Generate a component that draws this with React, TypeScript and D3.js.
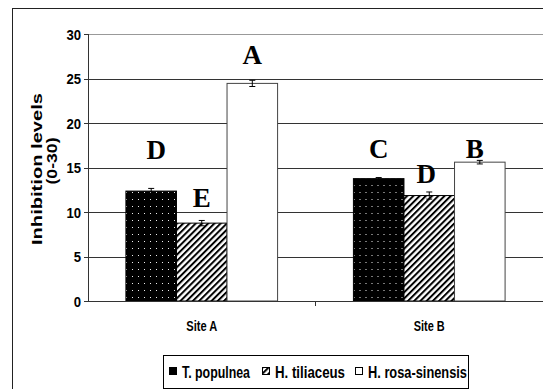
import React from 'react';
import * as d3 from 'd3';

const sites = ['Site A', 'Site B'];
const species = ['T. populnea', 'H. tiliaceus', 'H. rosa-sinensis'];
const populnea = [12.35, 13.75];
const tiliaceus = [8.75, 11.85];
const rosaSinensis = [24.45, 15.6];
const errPopulnea = [0.3, 0.12];
const errTiliaceus = [0.3, 0.4];
const errRosaSinensis = [0.35, 0.2];
const lettersPopulnea = ['D', 'C'];
const lettersTiliaceus = ['E', 'D'];
const lettersRosaSinensis = ['A', 'B'];
// where the letter baselines sit, in chart units
const letterLevelPopulnea = [16, 16.1];
const letterLevelTiliaceus = [10.6, 13.3];
const letterLevelRosaSinensis = [26.6, 16.1];
const yTicks = [0, 5, 10, 15, 20, 25, 30];

const W = 543, H = 389;
const narrow = '"Liberation Sans Narrow", "Arial Narrow", "Liberation Sans", Arial, sans-serif';

const App = () => {
    const y = d3.scaleLinear().domain([0, 30]).range([301, 34]);
    const x = d3.scaleBand().domain(sites).range([88, 543]).padding(0);
    const bw = x.bandwidth();
    const inner = d3.scaleBand().domain(species).range([bw / 6, bw * 5 / 6]).padding(0);

    const values = [populnea, tiliaceus, rosaSinensis];
    const errs = [errPopulnea, errTiliaceus, errRosaSinensis];
    const letters = [lettersPopulnea, lettersTiliaceus, lettersRosaSinensis];
    const letterLevels = [letterLevelPopulnea, letterLevelTiliaceus, letterLevelRosaSinensis];
    const fills = ['url(#dots)', 'url(#stripes)', '#fff'];

    const legendX = [169, 262, 355];
    const legendText = [68, 70, 99];

    return (
        <div style={{ position: 'fixed', left: 0, top: 0 }}>
            <svg width={W} height={H} style={{ display: 'block', background: '#fff' }}>
                <defs>
                    <pattern id="dots" patternUnits="userSpaceOnUse" width={6} height={7}>
                        <rect width={6} height={7} fill="#000" />
                        <rect x={2} y={3} width={1} height={1} fill="#eee" />
                    </pattern>
                    <pattern id="stripes" patternUnits="userSpaceOnUse" width={4.4} height={4.4} patternTransform="rotate(45)">
                        <rect width={4.4} height={4.4} fill="#fff" />
                        <rect width={2} height={4.4} fill="#000" />
                    </pattern>
                </defs>

                {/* chart area border */}
                <rect x={12.5} y={8.5} width={W} height={H} fill="none" stroke="#222" strokeWidth={1} />

                {/* gridlines */}
                {yTicks.slice(1).map(t => (
                    <line key={t} x1={88} x2={W} y1={Math.round(y(t)) + 0.5} y2={Math.round(y(t)) + 0.5}
                        stroke={t === 30 ? '#999' : '#333'} strokeWidth={1} />
                ))}

                {/* bars */}
                {sites.map((s, i) => (
                    <g key={s} transform={`translate(${x(s)},0)`}>
                        {species.map((sp, j) => {
                            const bx = inner(sp);
                            const v = values[j][i];
                            const e = errs[j][i];
                            const cx = bx + inner.bandwidth() / 2;
                            return (
                                <g key={sp}>
                                    <rect x={bx} y={y(v)} width={inner.bandwidth()} height={y(0) - y(v)}
                                        fill={fills[j]} stroke={j === 2 ? '#444' : '#000'} strokeWidth={1} />
                                    <line x1={cx} x2={cx} y1={y(v + e)} y2={y(v - e)} stroke="#000" />
                                    <line x1={cx - 3} x2={cx + 3} y1={y(v + e)} y2={y(v + e)} stroke="#000" />
                                    <line x1={cx - 3} x2={cx + 3} y1={y(v - e)} y2={y(v - e)} stroke="#000" />
                                    <text x={cx + (i === 0 && j === 0 ? 5 : 0) - (i === 1 && j === 1 ? 3 : 0) - (i === 1 && j === 2 ? 5 : 0)}
                                        y={y(letterLevels[j][i])} textAnchor="middle"
                                        fontFamily='"Liberation Serif", "Times New Roman", serif' fontWeight="bold" fontSize={27}>
                                        {letters[j][i]}
                                    </text>
                                </g>
                            );
                        })}
                    </g>
                ))}

                {/* axes */}
                <line x1={88.5} x2={88.5} y1={y(30)} y2={y(0)} stroke="#333" />
                <line x1={88} x2={W} y1={301.5} y2={301.5} stroke="#333" />
                {yTicks.map(t => (
                    <g key={t}>
                        <line x1={84} x2={88} y1={Math.round(y(t)) + 0.5} y2={Math.round(y(t)) + 0.5} stroke="#333" />
                        <text x={81} y={y(t) + 5.5} textAnchor="end" fontFamily={narrow} fontWeight="bold" fontSize={15}
                            textLength={String(t).length * 7.3} lengthAdjust="spacingAndGlyphs">{t}</text>
                    </g>
                ))}
                {sites.slice(1).map(s => (
                    <line key={s} x1={x(s)} x2={x(s)} y1={301} y2={306} stroke="#333" />
                ))}
                {sites.map(s => (
                    <text key={s} x={x(s) + bw / 2} y={330.5} textAnchor="middle" fontFamily={narrow}
                        fontWeight="bold" fontSize={14} textLength={31} lengthAdjust="spacingAndGlyphs">{s}</text>
                ))}

                {/* y title */}
                <text transform="translate(42,169) rotate(-90)" textAnchor="middle" fontFamily='"Liberation Sans", Arial, sans-serif'
                    fontWeight="bold" fontSize={15} textLength={152} lengthAdjust="spacingAndGlyphs">Inhibition levels</text>
                <text transform="translate(57,161) rotate(-90)" textAnchor="middle" fontFamily='"Liberation Sans", Arial, sans-serif'
                    fontWeight="bold" fontSize={15} textLength={47} lengthAdjust="spacingAndGlyphs">(0-30)</text>

                {/* legend */}
                <rect x={163.5} y={355.5} width={305} height={33} fill="#fff" stroke="#000" />
                {species.map((sp, j) => (
                    <g key={sp}>
                        <rect x={legendX[j] + 0.5} y={367.5} width={7} height={7} fill={fills[j]} stroke="#000" />
                        <text x={legendX[j] + 13} y={378} fontFamily={narrow} fontWeight="bold" fontSize={17}
                            textLength={legendText[j]} lengthAdjust="spacingAndGlyphs">{sp}</text>
                    </g>
                ))}
            </svg>
        </div>
    );
};

export default App;
